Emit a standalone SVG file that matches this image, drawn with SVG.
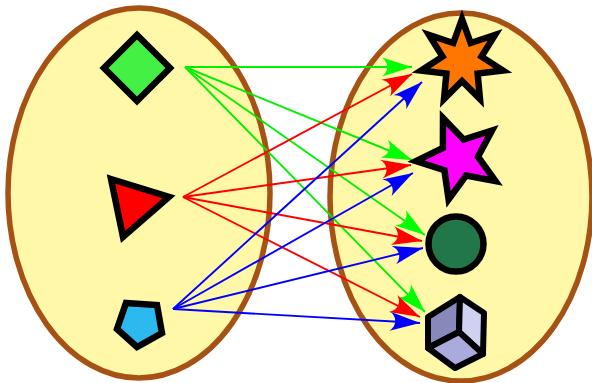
<svg xmlns="http://www.w3.org/2000/svg" width="592" height="383" viewBox="0 0 592 383">
<style>
.set{fill:#fff8a8;stroke:#a65214;stroke-width:5.5}
.shape{stroke:#000;stroke-width:6.5;stroke-linejoin:miter;stroke-miterlimit:10}
.g{stroke:#00f000;stroke-width:1.9;fill:none;marker-end:url(#ag)}
.r{stroke:#ff0000;stroke-width:1.9;fill:none;marker-end:url(#ar)}
.b{stroke:#0000ff;stroke-width:1.9;fill:none;marker-end:url(#ab)}
</style>
<defs>
<marker id="ag" markerUnits="userSpaceOnUse" orient="auto" refX="0" refY="0" markerWidth="40" markerHeight="40" overflow="visible"><path d="M0,0 L-30,-9.5 C-23,-4 -23,4 -30,9.5 Z" fill="#00ff00"/></marker>
<marker id="ar" markerUnits="userSpaceOnUse" orient="auto" refX="0" refY="0" markerWidth="40" markerHeight="40" overflow="visible"><path d="M0,0 L-30,-9.5 C-23,-4 -23,4 -30,9.5 Z" fill="#ff0000"/></marker>
<marker id="ab" markerUnits="userSpaceOnUse" orient="auto" refX="0" refY="0" markerWidth="40" markerHeight="40" overflow="visible"><path d="M0,0 L-30,-9.5 C-23,-4 -23,4 -30,9.5 Z" fill="#0000ff"/></marker>
</defs>
<g id="sets">
<ellipse id="domain" class="set" cx="139" cy="193" rx="131" ry="185"/>
<ellipse id="codomain" class="set" cx="461" cy="197" rx="131" ry="184"/>
</g>
<g id="connectors">
<line class="g" x1="185" y1="67" x2="412" y2="67"/>
<line class="g" x1="185" y1="67" x2="412" y2="160"/>
<line class="g" x1="185" y1="67" x2="425" y2="235"/>
<line class="g" x1="185" y1="67" x2="425" y2="312"/>
<line class="r" x1="183" y1="197" x2="412" y2="74"/>
<line class="r" x1="183" y1="197" x2="411" y2="165"/>
<line class="r" x1="183" y1="197" x2="422" y2="241"/>
<line class="r" x1="183" y1="197" x2="420" y2="317"/>
<line class="b" x1="173" y1="309" x2="422" y2="82"/>
<line class="b" x1="173" y1="309" x2="413" y2="173"/>
<line class="b" x1="173" y1="309" x2="423" y2="248"/>
<line class="b" x1="173" y1="309" x2="420" y2="323"/>
</g>
<g id="diamond"><polygon class="shape" fill="#44f044" points="137,35 170,68 137,101 104,68"/></g>
<g id="triangle"><polygon class="shape" fill="#ff0000" points="111,179 169,197 123,237"/></g>
<g id="pentagon"><polygon class="shape" fill="#2bb9f0" points="126,303 157,305 162,333 137,347 117,329"/></g>
<g id="star7"><polygon class="shape" fill="#ff7700" points="462,19 470.7,43 495,35 481.5,56.6 503,70.6 477.6,73.5 480,99 462,81 444,99 446.4,73.5 421,70.6 442.5,56.6 429,35 453.3,43"/></g>
<g id="star5"><polygon class="shape" fill="#ff00ff" points="443,118 463.6,139.6 492,130.5 478,156.7 495.5,181 466.1,175.6 448.6,199.5 444.4,170.2 416,161.1 442.9,147.9"/></g>
<g id="circle"><circle class="shape" fill="#22774a" cx="456" cy="244" r="27.5"/></g>
<g id="cube" stroke="#000" stroke-width="6" stroke-linejoin="round">
<polygon fill="#8888bb" points="428,317 460,297 459,332 428,348"/>
<polygon fill="#d0d0f0" points="460,297 484,313 483,354 459,332"/>
<polygon fill="#aaaadd" points="459,332 483,354 455,368 428,348"/>
</g>
</svg>
